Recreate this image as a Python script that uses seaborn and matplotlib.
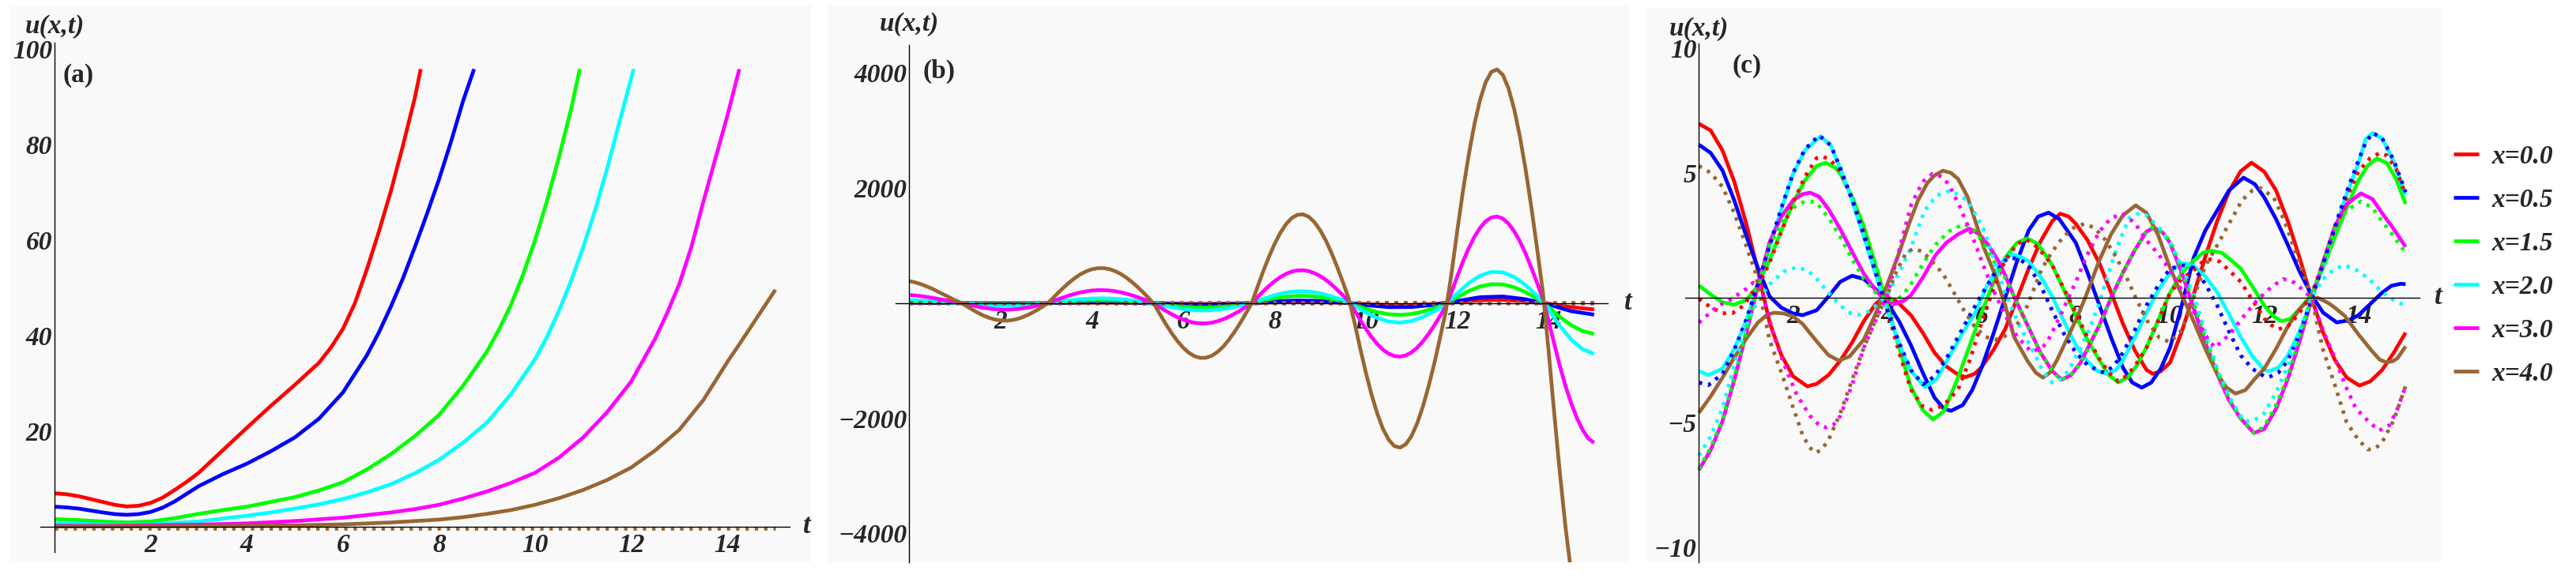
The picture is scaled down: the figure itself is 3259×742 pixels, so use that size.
import matplotlib
matplotlib.use("Agg")
import matplotlib.pyplot as plt
from matplotlib.transforms import blended_transform_factory
import seaborn as sns

sns.set_style("white")
plt.rcParams["font.family"] = ["Liberation Serif", "DejaVu Serif"]
plt.rcParams["font.weight"] = "bold"
plt.rcParams["font.style"] = "italic"
plt.rcParams["axes.unicode_minus"] = True

# ---------------- data ----------------
legend_labels = ["x=0.0", "x=0.5", "x=1.5", "x=2.0", "x=3.0", "x=4.0"]
line_colors = ["#ff0000", "#0000ff", "#00ff00", "#00ffff", "#ff00ff", "#996633"]

# panel (a): (t, u)
a_red = [(0, 7.0), (0.25, 6.8), (0.5, 6.4), (0.75, 5.8), (1, 5.2), (1.25, 4.6), (1.5, 4.25),
         (1.75, 4.4), (2, 5.0), (2.25, 6.1), (2.5, 7.7), (2.75, 9.4), (3, 11.3), (3.5, 16.0),
         (4, 20.7), (4.5, 25.3), (5, 29.7), (5.5, 34.3), (5.75, 37.5), (6, 41.4), (6.25, 46.8),
         (6.5, 53.9), (6.75, 61.8), (7, 70.3), (7.25, 79.8), (7.5, 89.9), (7.62, 95.8)]
a_blue = [(0, 4.2), (0.25, 4.05), (0.5, 3.8), (0.75, 3.4), (1, 3.0), (1.25, 2.65), (1.5, 2.5),
          (1.75, 2.65), (2, 3.1), (2.25, 4.0), (2.5, 5.3), (2.75, 6.9), (3, 8.5), (3.5, 11.0),
          (4, 13.2), (4.5, 15.8), (5, 18.7), (5.5, 22.6), (6, 28.1), (6.5, 35.9), (6.75, 40.7),
          (7, 46.1), (7.25, 52.0), (7.5, 58.6), (7.75, 65.5), (8, 72.7), (8.25, 80.6), (8.5, 89.1),
          (8.73, 95.8)]
a_green = [(0, 1.6), (0.5, 1.4), (1, 1.1), (1.5, 0.9), (2, 1.1), (2.5, 1.8), (3, 2.7), (3.5, 3.5),
           (4, 4.2), (4.5, 5.2), (5, 6.2), (5.5, 7.6), (6, 9.3), (6.5, 12.0), (7, 15.2), (7.5, 19.0),
           (8, 23.4), (8.5, 29.5), (9, 36.7), (9.25, 41.3), (9.5, 46.5), (9.75, 52.8), (10, 60.0),
           (10.25, 68.3), (10.5, 77.5), (10.75, 87.5), (10.93, 95.8)]
a_cyan = [(0, 0.7), (0.5, 0.6), (1, 0.5), (1.5, 0.45), (2, 0.5), (2.5, 0.8), (3, 1.1), (3.5, 1.7),
          (4, 2.3), (4.5, 3.0), (5, 3.8), (5.5, 4.7), (6, 5.8), (6.5, 7.2), (7, 8.9), (7.5, 11.2),
          (8, 14.0), (8.5, 17.6), (9, 21.8), (9.5, 27.8), (10, 35.1), (10.25, 39.8), (10.5, 45.3),
          (10.75, 51.5), (11, 58.5), (11.25, 66.3), (11.5, 75.0), (11.75, 84.5), (12.05, 95.8)]
a_magenta = [(0, 0.2), (1, 0.2), (2, 0.3), (3, 0.45), (4, 0.7), (5, 1.2), (6, 1.9), (7, 3.0),
             (7.5, 3.7), (8, 4.6), (8.5, 5.9), (9, 7.4), (9.5, 9.2), (10, 11.3), (10.5, 14.5),
             (11, 18.7), (11.5, 24.0), (12, 30.4), (12.5, 39.4), (12.75, 44.8), (13, 50.8),
             (13.25, 58.5), (13.5, 68.0), (13.75, 77.0), (14, 86.0), (14.25, 95.8)]
a_brown = [(0, 0.05), (2, 0.1), (4, 0.2), (5, 0.3), (6, 0.5), (7, 0.9), (8, 1.5), (8.5, 2.0),
           (9, 2.7), (9.5, 3.5), (10, 4.6), (10.5, 6.0), (11, 7.7), (11.5, 9.8), (12, 12.4),
           (12.5, 16.0), (13, 20.3), (13.5, 26.5), (14, 34.5), (14.25, 38.2), (14.5, 42.0),
           (14.75, 45.8), (15, 49.6)]
a_dotted = [(0, -0.3), (15, -0.3)]

# panel (b): t grids and u values
b_t8 = [i / 8 for i in range(121)]
b_t4 = [i / 4 for i in range(61)]
b_t2 = [i / 2 for i in range(31)]
b_red = [6, 4, 1, -2, -4, -3, 0, 5, 8, 8, 4, -3, -11, -14, -9, 0, 15, 22, 18, 5, -17, -34, -33,
         -15, 18, 50, 57, 33, -11, -70, -110]
b_blue = [11, 7, 2, -5, -9, -7, -1, 10, 17, 16, 8, -6, -22, -28, -18, 0, 30, 45, 37, 10, -35,
          -69, -67, -30, 36, 102, 115, 67, -23, -140, -200]
b_green = [32, 27, 21, 12, 4, -4, -14, -21, -24, -24, -19, -12, -2, 14, 29, 41, 48, 50, 46, 36,
           22, 7, -17, -43, -63, -75, -78, -69, -52, -28, 0, 45, 84, 112, 126, 123, 104, 71, 29,
           -27, -99, -157, -194, -205, -189, -147, -86, -12, 101, 209, 288, 328, 324, 275, 189,
           78, -66, -241, -384, -486, -535]
b_cyan = [52, 44, 34, 20, 7, -7, -23, -35, -40, -40, -32, -19, -3, 23, 48, 68, 79, 82, 75, 60,
          37, 11, -28, -71, -104, -124, -128, -114, -86, -46, 0, 74, 138, 184, 207, 202, 171, 117,
          48, -45, -163, -259, -320, -338, -311, -242, -141, -20, 167, 345, 475, 541, 534, 453,
          312, 129, -108, -397, -633, -801, -882]
b_magenta = [142, 133, 122, 108, 93, 74, 56, 37, 19, 3,
             -19, -41, -62, -80, -95, -106, -111, -113, -109, -101, -88, -72, -53, -30, -7,
             26, 64, 99, 132, 161, 186, 205, 218, 225, 225, 219, 207, 189, 164, 136, 103, 68, 30,
             -13, -77, -138, -195, -245, -287, -320, -342, -352, -351, -339, -314, -280, -236,
             -184, -127, -64, 0,
             103, 204, 297, 380, 451, 507, 547, 568, 571, 555, 520, 469, 402, 321, 230, 132, 29,
             -123, -290, -447, -589, -711, -809, -879, -920, -929, -908, -855, -773, -665, -534,
             -387, -224, -55,
             189, 460, 717, 948, 1147, 1306, 1422, 1488, 1503, 1469, 1381, 1247, 1071, 859, 618,
             354, 78,
             -296, -704, -1093, -1444, -1741, -2000, -2204, -2352, -2426]
b_brown = [383, 360, 330, 292, 250, 200, 150, 100, 50, 8,
           -50, -111, -168, -217, -256, -285, -301, -305, -295, -273, -238, -194, -142, -82, -20,
           70, 172, 268, 357, 436, 502, 553, 588, 607, 608, 592, 558, 509, 444, 366, 279, 184, 82,
           -35, -207, -373, -526, -662, -776, -864, -923, -951, -948, -914, -848, -756, -636,
           -496, -343, -173, 0,
           279, 550, 801, 1027, 1219, 1370, 1477, 1534, 1542, 1499, 1405, 1265, 1085, 867, 621,
           356, 79,
           -332, -783, -1206, -1589, -1919, -2185, -2373, -2484, -2509, -2451, -2308, -2087,
           -1795, -1441, -1045, -605, -148,
           511, 1243, 1935, 2559, 3096, 3526, 3839, 4017, 4059, 3965, 3730, 3367, 2892, 2319,
           1668, 955, 211,
           -800, -1900, -2950, -3900, -4700, -5400, -5950, -6350, -6550]

# panel (c): solid curves, (t, u)
c_red = [(0, 6.97), (0.25, 6.7), (0.5, 5.9), (0.75, 4.65), (1.0, 3.0), (1.25, 1.1), (1.5, -1.0),
         (1.75, -2.3), (2.0, -3.15), (2.3, -3.55), (2.5, -3.45), (2.75, -3.1), (3.0, -2.52),
         (3.25, -1.8), (3.5, -0.94), (3.75, -0.25), (3.95, 0.05), (4.2, -0.15), (4.5, -0.7),
         (4.75, -1.4), (5.0, -2.2), (5.25, -2.75), (5.5, -3.08), (5.66, -3.18), (5.85, -3.05),
         (6.0, -2.78), (6.25, -2.1), (6.5, -1.26), (6.75, -0.05), (7.0, 1.17), (7.25, 2.25),
         (7.5, 3.07), (7.67, 3.37), (7.85, 3.25), (8.0, 2.96), (8.25, 2.3), (8.5, 1.38),
         (8.75, 0.2), (9.0, -1.04), (9.25, -2.1), (9.5, -2.89), (9.63, -3.05), (9.8, -2.95),
         (10.0, -2.6), (10.25, -1.35), (10.5, 0.12), (10.75, 1.65), (11.0, 3.07), (11.25, 4.25),
         (11.5, 5.07), (11.73, 5.41), (12.0, 5.05), (12.25, 4.3), (12.5, 3.07), (12.75, 1.6),
         (13.0, 0.0), (13.25, -1.4), (13.5, -2.5), (13.75, -3.2), (14.02, -3.52), (14.25, -3.35),
         (14.5, -2.9), (14.75, -2.2), (15.0, -1.4)]
c_blue = [(0, 6.13), (0.25, 5.8), (0.5, 5.1), (0.75, 3.9), (1.0, 2.5), (1.25, 1.2), (1.5, 0.05),
          (1.75, -0.4), (2.0, -0.63), (2.2, -0.7), (2.5, -0.5), (2.75, 0.05), (3.0, 0.64),
          (3.25, 0.88), (3.5, 0.75), (3.75, 0.35), (4.0, -0.2), (4.25, -0.95), (4.5, -1.9),
          (4.75, -3.0), (5.0, -4.0), (5.2, -4.45), (5.35, -4.53), (5.6, -4.3), (5.8, -3.7),
          (6.0, -2.8), (6.25, -1.45), (6.5, 0.0), (6.75, 1.45), (7.0, 2.7), (7.2, 3.25),
          (7.42, 3.41), (7.65, 3.15), (8.0, 2.2), (8.25, 1.0), (8.5, -0.3), (8.75, -1.6),
          (9.0, -2.8), (9.2, -3.4), (9.4, -3.6), (9.6, -3.4), (9.8, -2.85), (10.0, -2.0),
          (10.25, -0.3), (10.5, 1.59), (10.75, 2.7), (11.0, 3.49), (11.25, 4.3), (11.56, 4.81),
          (11.8, 4.55), (12.0, 4.02), (12.25, 3.15), (12.5, 2.12), (12.75, 1.05), (13.0, 0.12),
          (13.25, -0.6), (13.54, -0.99), (13.8, -0.9), (14.0, -0.7), (14.25, -0.25), (14.5, 0.2),
          (14.7, 0.48), (14.9, 0.56), (15.0, 0.54)]
c_green = [(0, 0.49), (0.3, 0.06), (0.5, -0.18), (0.74, -0.28), (1.0, -0.1), (1.2, 0.35),
           (1.5, 1.5), (1.75, 2.7), (2.0, 3.81), (2.25, 4.7), (2.5, 5.28), (2.69, 5.41), (2.9, 5.2),
           (3.0, 4.97), (3.25, 4.05), (3.5, 2.86), (3.75, 1.3), (4.0, -0.31), (4.25, -2.0),
           (4.5, -3.58), (4.75, -4.5), (4.97, -4.88), (5.2, -4.55), (5.5, -3.2), (5.75, -1.9),
           (6.0, -0.6), (6.25, 0.6), (6.5, 1.6), (6.75, 2.2), (6.97, 2.38), (7.2, 2.15),
           (7.5, 1.3), (7.75, 0.3), (8.0, -0.7), (8.25, -1.7), (8.5, -2.5), (8.7, -3.1),
           (8.9, -3.39), (9.1, -3.2), (9.3, -2.7), (9.5, -1.99), (9.75, -0.9), (10.0, 0.2),
           (10.25, 1.0), (10.5, 1.49), (10.7, 1.8), (10.86, 1.89), (11.1, 1.8), (11.3, 1.5),
           (11.5, 1.17), (11.75, 0.45), (12.0, -0.31), (12.2, -0.75), (12.37, -0.94),
           (12.55, -0.85), (12.75, -0.45), (13.0, 0.12), (13.25, 1.2), (13.5, 2.44), (13.75, 3.6),
           (14.0, 4.7), (14.2, 5.3), (14.39, 5.58), (14.6, 5.4), (14.8, 4.75), (15.0, 3.76)]
c_cyan = [(0, -2.94), (0.2, -3.1), (0.5, -2.84), (0.75, -2.05), (1.0, -0.94), (1.25, 0.5),
          (1.5, 2.01), (1.75, 3.55), (2.0, 4.97), (2.25, 5.9), (2.58, 6.47), (2.8, 6.1),
          (3.0, 5.18), (3.25, 3.9), (3.5, 2.44), (3.75, 0.95), (4.0, -0.52), (4.25, -1.85),
          (4.5, -2.94), (4.8, -3.58), (5.05, -3.25), (5.3, -2.4), (5.6, -1.4), (5.86, -0.62),
          (6.13, 0.54), (6.41, 1.38), (6.64, 1.75), (6.85, 1.62), (7.0, 1.45), (7.25, 0.85),
          (7.5, 0.05), (7.75, -0.95), (8.0, -1.9), (8.25, -2.55), (8.46, -2.94), (8.68, -3.05),
          (8.85, -2.9), (9.0, -2.5), (9.25, -1.6), (9.5, -0.6), (9.75, 0.3), (10.0, 1.0),
          (10.24, 1.4), (10.5, 1.28), (10.75, 0.85), (11.0, 0.22), (11.25, -0.65), (11.5, -1.57),
          (11.75, -2.35), (12.0, -2.89), (12.11, -2.94), (12.3, -2.8), (12.5, -2.31),
          (12.75, -1.35), (13.0, -0.1), (13.25, 1.3), (13.5, 2.75), (13.75, 4.15), (14.0, 5.39),
          (14.15, 6.35), (14.3, 6.6), (14.5, 6.39), (14.75, 5.45), (15.0, 4.12)]
c_magenta = [(0, -6.9), (0.25, -6.1), (0.5, -4.95), (0.75, -3.3), (1.0, -1.47), (1.25, 0.45),
             (1.5, 2.23), (1.75, 3.25), (2.0, 3.91), (2.2, 4.15), (2.36, 4.21), (2.55, 4.05),
             (2.75, 3.55), (3.0, 2.75), (3.25, 1.85), (3.5, 0.96), (3.75, 0.3), (3.95, -0.1),
             (4.15, -0.25), (4.35, -0.12), (4.5, 0.1), (4.75, 0.8), (5.02, 1.7), (5.25, 2.2),
             (5.5, 2.54), (5.74, 2.77), (5.95, 2.55), (6.14, 2.12), (6.35, 1.5), (6.5, 0.9),
             (6.7, 0.0), (6.85, -0.6), (7.0, -1.2), (7.25, -2.2), (7.5, -2.94), (7.7, -3.28),
             (7.9, -3.1), (8.1, -2.6), (8.3, -1.85), (8.5, -1.1), (8.75, 0.0), (9.0, 1.0),
             (9.25, 1.9), (9.5, 2.65), (9.66, 2.81), (9.85, 2.6), (10.0, 2.2), (10.25, 1.0),
             (10.5, -0.41), (10.75, -1.8), (11.0, -3.05), (11.25, -4.1), (11.5, -4.84),
             (11.78, -5.42), (12.0, -5.26), (12.25, -4.45), (12.5, -3.26), (12.75, -1.75),
             (13.0, -0.1), (13.25, 1.45), (13.5, 2.86), (13.75, 3.75), (14.05, 4.18), (14.3, 3.95),
             (14.5, 3.39), (14.75, 2.75), (15.0, 2.04)]
c_brown = [(0, -4.61), (0.25, -3.95), (0.5, -3.2), (0.75, -2.4), (1.0, -1.65), (1.25, -1.0),
           (1.45, -0.68), (1.6, -0.6), (1.8, -0.63), (2.0, -0.75), (2.2, -1.05), (2.5, -1.75),
           (2.75, -2.3), (2.97, -2.52), (3.2, -2.35), (3.5, -1.68), (3.75, -0.65), (4.0, 0.54),
           (4.25, 1.8), (4.46, 2.96), (4.65, 3.9), (4.85, 4.6), (5.0, 4.9), (5.18, 5.09),
           (5.35, 5.0), (5.5, 4.76), (5.7, 4.05), (5.85, 3.17), (6.05, 2.0), (6.3, 0.85),
           (6.5, -0.3), (6.69, -1.57), (6.97, -2.52), (7.15, -3.0), (7.3, -3.2), (7.45, -3.0),
           (7.6, -2.5), (7.8, -1.7), (8.0, -0.9), (8.2, 0.0), (8.5, 1.5), (8.75, 2.55), (9.0, 3.3),
           (9.27, 3.7), (9.5, 3.4), (9.75, 2.5), (10.0, 1.2), (10.25, 0.1), (10.5, -0.94),
           (10.75, -2.05), (11.0, -3.05), (11.2, -3.6), (11.39, -3.84), (11.6, -3.7),
           (11.8, -3.25), (12.0, -2.84), (12.25, -2.05), (12.5, -1.15), (12.75, -0.45),
           (12.95, -0.08), (13.13, 0.0), (13.35, -0.2), (13.5, -0.4), (13.71, -0.73), (14.0, -1.47),
           (14.27, -2.1), (14.45, -2.48), (14.58, -2.58), (14.72, -2.55), (14.83, -2.42),
           (15.0, -1.95)]

# panel (c): dotted curves, (t, u)
c_red_dot = [(0, -0.04), (0.23, -0.36), (0.5, -0.62), (0.71, -0.62), (0.96, -0.3), (1.1, 0.12),
             (1.3, 0.65), (1.5, 1.4), (1.75, 2.65), (2.0, 3.81), (2.25, 4.85), (2.5, 5.6),
             (2.64, 5.65), (2.8, 5.5), (3.0, 5.07), (3.25, 3.95), (3.5, 2.65), (3.75, 1.05),
             (4.0, -0.52), (4.25, -2.2), (4.5, -3.68), (4.75, -4.35), (4.95, -4.5), (5.2, -4.3),
             (5.5, -3.68), (5.75, -2.5), (6.0, -1.0), (6.25, 0.35), (6.5, 1.5), (6.75, 2.15),
             (6.95, 2.33), (7.2, 2.0), (7.5, 1.3), (7.75, 0.35), (8.0, -0.6), (8.25, -1.6),
             (8.5, -2.45), (8.7, -3.0), (8.9, -3.35), (9.1, -3.1), (9.3, -2.6), (9.5, -2.0),
             (9.75, -0.9), (10.0, 0.2), (10.25, 0.75), (10.5, 1.1), (10.7, 1.45), (10.86, 1.54),
             (11.05, 1.45), (11.25, 1.1), (11.5, 0.64), (11.75, -0.1), (12.0, -0.83),
             (12.15, -1.1), (12.3, -1.26), (12.5, -1.15), (12.75, -0.6), (13.0, 0.12),
             (13.25, 1.4), (13.5, 2.75), (13.75, 4.0), (14.0, 5.07), (14.25, 5.6), (14.45, 5.8),
             (14.6, 5.7), (14.8, 5.15), (15.0, 4.12)]
c_blue_dot = [(0, -3.4), (0.2, -3.5), (0.5, -3.05), (0.75, -2.1), (1.0, -0.9), (1.25, 0.55),
              (1.5, 2.1), (1.75, 3.6), (2.0, 5.0), (2.25, 5.95), (2.55, 6.5), (2.8, 6.1),
              (3.0, 5.2), (3.25, 3.95), (3.5, 2.5), (3.75, 1.0), (4.0, -0.5), (4.25, -1.8),
              (4.5, -2.9), (4.76, -3.47), (5.0, -3.15), (5.25, -2.45), (5.5, -1.57), (5.75, -0.7),
              (6.0, 0.12), (6.25, 0.9), (6.5, 1.49), (6.6, 1.6), (6.8, 1.55), (7.0, 1.28),
              (7.25, 0.5), (7.5, -0.52), (7.75, -1.45), (8.0, -2.2), (8.25, -2.7), (8.5, -2.94),
              (8.6, -3.0), (8.8, -2.75), (9.0, -2.2), (9.25, -1.3), (9.5, -0.31), (9.75, 0.5),
              (10.0, 1.17), (10.3, 1.3), (10.5, 1.2), (10.75, 0.55), (11.0, -0.31), (11.25, -1.35),
              (11.5, -2.31), (11.75, -2.85), (12.0, -3.15), (12.1, -3.18), (12.3, -3.0),
              (12.5, -2.52), (12.75, -1.45), (13.0, -0.1), (13.25, 1.35), (13.5, 2.86),
              (13.75, 4.25), (14.0, 5.5), (14.15, 6.2), (14.3, 6.6), (14.5, 6.4), (14.75, 5.5),
              (15.0, 4.23)]
c_green_dot = [(0, -6.85), (0.25, -6.0), (0.5, -4.9), (0.75, -3.2), (1.0, -1.4), (1.25, 0.4),
               (1.5, 2.1), (1.75, 3.0), (2.0, 3.6), (2.2, 3.82), (2.36, 3.86), (2.5, 3.8),
               (2.75, 3.2), (3.0, 2.44), (3.25, 1.55), (3.5, 0.75), (3.75, 0.2), (3.95, -0.05),
               (4.15, -0.12), (4.3, 0.05), (4.5, 0.54), (4.75, 1.35), (5.02, 2.12), (5.3, 2.65),
               (5.63, 2.96), (5.85, 2.7), (6.02, 2.23), (6.25, 1.5), (6.5, 0.8), (6.75, -0.2),
               (7.0, -1.2), (7.25, -2.2), (7.5, -2.9), (7.67, -3.3), (7.85, -3.15), (8.0, -2.9),
               (8.25, -2.1), (8.5, -1.1), (8.75, 0.0), (9.0, 1.0), (9.25, 1.9), (9.5, 2.65),
               (9.62, 2.81), (9.8, 2.65), (10.0, 2.3), (10.25, 1.1), (10.5, -0.2), (10.75, -1.6),
               (11.0, -2.94), (11.25, -4.05), (11.5, -4.84), (11.78, -5.42), (12.0, -5.16),
               (12.25, -4.3), (12.5, -3.15), (12.75, -1.6), (13.0, 0.0), (13.25, 1.45),
               (13.5, 2.75), (13.75, 3.5), (14.05, 3.86), (14.3, 3.6), (14.5, 3.07), (14.75, 2.45),
               (15.0, 1.8)]
c_cyan_dot = [(0, -6.32), (0.25, -5.55), (0.5, -4.42), (0.75, -2.7), (1.0, -1.15), (1.25, -0.1),
              (1.5, 0.54), (1.8, 1.05), (2.08, 1.22), (2.3, 1.1), (2.5, 0.75), (2.75, 0.2),
              (3.0, -0.31), (3.2, -0.6), (3.4, -0.68), (3.6, -0.55), (3.8, -0.25), (4.0, 0.12),
              (4.25, 1.0), (4.5, 2.01), (4.79, 3.49), (5.05, 4.1), (5.35, 4.3), (5.69, 3.91),
              (6.02, 2.86), (6.25, 1.59), (6.47, 0.33), (6.81, -1.15), (7.14, -2.3), (7.3, -2.95),
              (7.5, -3.4), (7.65, -3.3), (7.84, -2.94), (8.05, -2.2), (8.29, -1.26), (8.46, -0.41),
              (8.65, 0.7), (8.85, 1.9), (9.13, 3.2), (9.35, 3.39), (9.5, 3.3), (9.75, 2.85),
              (10.0, 2.2), (10.25, 1.25), (10.5, 0.12), (10.75, -1.4), (11.0, -2.84),
              (11.25, -3.95), (11.5, -4.74), (11.6, -4.95), (11.8, -4.9), (12.0, -4.63),
              (12.25, -3.8), (12.5, -2.73), (12.75, -1.35), (13.0, 0.0), (13.25, 0.75),
              (13.5, 1.17), (13.71, 1.3), (14.0, 1.07), (14.25, 0.7), (14.5, 0.22), (14.75, -0.1),
              (15.0, -0.31)]
c_magenta_dot = [(0, -1.0), (0.4, -0.33), (0.65, -0.1), (1.0, 0.35), (1.15, 0.6), (1.3, 0.45),
                 (1.45, -0.5), (1.58, -1.47), (1.8, -2.63), (2.08, -3.9), (2.36, -4.74),
                 (2.55, -5.1), (2.7, -5.2), (2.85, -5.1), (3.0, -4.74), (3.25, -3.5), (3.5, -2.0),
                 (3.75, -0.9), (4.0, 0.12), (4.25, 1.9), (4.5, 3.7), (4.75, 4.65), (4.96, 4.97),
                 (5.15, 4.85), (5.3, 4.55), (5.55, 3.6), (5.83, 2.33), (6.02, 1.38), (6.25, 0.3),
                 (6.5, -0.7), (6.75, -1.55), (7.05, -2.15), (7.25, -2.05), (7.39, -1.8),
                 (7.7, -0.6), (8.0, 0.64), (8.25, 1.75), (8.5, 2.65), (8.75, 3.2), (9.0, 3.35),
                 (9.25, 3.0), (9.5, 2.3), (9.75, 1.75), (10.0, 1.1), (10.25, 0.3), (10.5, -0.55),
                 (10.75, -1.5), (10.95, -2.0), (11.25, -1.5), (11.57, -0.73), (11.85, -0.1),
                 (12.15, 0.43), (12.4, 0.75), (12.65, 0.6), (13.0, 0.0), (13.27, -1.41),
                 (13.49, -2.36), (13.71, -3.47), (13.94, -4.42), (14.22, -4.97), (14.44, -5.32),
                 (14.66, -5.1), (14.83, -4.44), (15.0, -3.54)]
c_brown_dot = [(0, 5.28), (0.25, 5.0), (0.5, 4.44), (0.75, 3.4), (1.0, 2.1), (1.2, 1.0),
               (1.5, -1.7), (1.75, -3.0), (2.0, -4.4), (2.2, -5.5), (2.35, -6.0), (2.47, -6.21),
               (2.6, -6.1), (2.75, -5.7), (3.0, -4.63), (3.25, -3.3), (3.5, -2.0), (3.75, -0.9),
               (4.0, 0.12), (4.2, 1.1), (4.4, 1.8), (4.55, 1.96), (4.75, 1.85), (5.0, 1.35),
               (5.18, 0.96), (5.4, 0.25), (5.63, -0.52), (5.85, -1.15), (6.08, -1.57), (6.3, -1.68),
               (6.58, -1.47), (6.8, -0.95), (6.95, -0.41), (7.1, 0.3), (7.28, 1.17), (7.5, 1.85),
               (7.73, 2.43), (7.95, 2.8), (8.18, 2.96), (8.4, 2.8), (8.62, 2.33), (8.85, 1.65),
               (9.07, 0.85), (9.27, 0.0), (9.55, -1.04), (9.77, -1.6), (10.0, -1.78),
               (10.25, -1.3), (10.5, 0.0), (10.75, 1.28), (11.03, 2.2), (11.25, 2.96),
               (11.53, 3.91), (11.75, 4.3), (11.92, 4.39), (12.2, 4.02), (12.43, 3.07),
               (12.71, 1.59), (13.0, 0.0), (13.25, -2.1), (13.5, -3.5), (13.75, -5.0), (14.0, -5.7),
               (14.2, -6.08), (14.35, -6.05), (14.5, -5.8), (14.75, -4.9), (15.0, -3.54)]

a_curves = [a_red, a_blue, a_green, a_cyan, a_magenta, a_brown]
b_curves = [(b_t2, b_red), (b_t2, b_blue), (b_t4, b_green), (b_t4, b_cyan),
            (b_t8, b_magenta), (b_t8, b_brown)]
c_solid = [c_red, c_blue, c_green, c_cyan, c_magenta, c_brown]
c_dotted = [c_red_dot, c_blue_dot, c_green_dot, c_cyan_dot, c_magenta_dot, c_brown_dot]

# ---------------- figure ----------------
W, H = 3259, 742
fig = plt.figure(figsize=(W / 100, H / 100), dpi=100)
BG = "#f9f9f9"
LW = 3.4
DOT = (0, (0.9, 1.6))
FS = 24


def px_axes(x0, x1, y0, y1):
    return fig.add_axes([x0 / W, 1 - y1 / H, (x1 - x0) / W, (y1 - y0) / H])


def draw(ax, t, u, color, dotted=False, label=None):
    sns.lineplot(x=t, y=u, ax=ax, color=color, linewidth=LW, label=label,
                 estimator=None, linestyle=DOT if dotted else "-",
                 solid_joinstyle="round", solid_capstyle="butt")


def split(pts):
    return [p[0] for p in pts], [p[1] for p in pts]


def style_axes(ax, xlim, ylim, ybounds, xmajor, xminor, ymajor, yminor):
    ax.set_facecolor(BG)
    ax.set_xlim(*xlim)
    ax.set_ylim(*ylim)
    for s in ["top", "right"]:
        ax.spines[s].set_visible(False)
    ax.spines["left"].set_position(("data", 0))
    ax.spines["bottom"].set_position(("data", 0))
    ax.spines["left"].set_bounds(*ybounds)
    ax.spines["bottom"].set_bounds(-0.3, 15.3)
    for s in ["left", "bottom"]:
        ax.spines[s].set_linewidth(1.0)
        ax.spines[s].set_color("black")
    ax.set_xticks(xmajor)
    ax.set_xticks(xminor, minor=True)
    ax.set_yticks(ymajor)
    ax.set_yticks(yminor, minor=True)
    ax.tick_params(which="major", direction="in", length=6, width=1.0, labelsize=FS)
    ax.tick_params(which="minor", direction="in", length=3.5, width=0.8)
    ax.tick_params(axis="x", pad=6)
    ax.tick_params(axis="y", pad=2)
    ax.set_xlabel("")
    ax.set_ylabel("")


def annotate(ax, tag, tag_x, tag_y, top_y, t_x):
    tr = blended_transform_factory(ax.transData, ax.transAxes)
    ax.text(0, top_y, "u(x,t)", transform=tr, ha="center", va="center", fontsize=FS)
    ax.text(tag_x, tag_y, tag, transform=tr, ha="left", va="center", fontsize=FS,
            fontstyle="normal", fontweight="bold")
    ax.text(t_x, 0, "t", ha="left", va="center", fontsize=FS + 1)


xmajor = [2, 4, 6, 8, 10, 12, 14]
xminor = [k / 2 for k in range(1, 31)]

# panel (a)
ax_a = px_axes(12.6, 1025.6, 7, 712)
for pts, col in zip(a_curves, line_colors):
    draw(ax_a, *split(pts), col)
draw(ax_a, *split(a_dotted), line_colors[5], dotted=True)
style_axes(ax_a, (-0.928, 15.734), (-7.44, 109.1), (-5.3, 101.3), xmajor, xminor,
           [20, 40, 60, 80, 100], list(range(-5, 101, 5)))
annotate(ax_a, "(a)", 0.18, 0.875, 0.962, 15.58)

# panel (b)
ax_b = px_axes(1047, 2061, 7, 712)
for (t, u), col in zip(b_curves, line_colors):
    draw(ax_b, t, u, col)
for pts, col in zip(c_dotted, line_colors):
    draw(ax_b, *split(pts), col, dotted=True)
style_axes(ax_b, (-1.792, 15.766), (-4502, 5169), (-4502, 4486), xmajor, xminor,
           [-4000, -2000, 2000, 4000], list(range(-4500, 4501, 500)))
annotate(ax_b, "(b)", 0.30, 0.882, 0.966, 15.66)

# panel (c)
ax_c = px_axes(2083, 3089, 11, 712)
for pts, col, lab in zip(c_solid, line_colors, legend_labels):
    draw(ax_c, *split(pts), col, label=lab)
for pts, col in zip(c_dotted, line_colors):
    draw(ax_c, *split(pts), col, dotted=True)
style_axes(ax_c, (-1.114, 15.765), (-10.6, 11.58), (-10.6, 10.2), xmajor, xminor,
           [-10, -5, 5, 10], list(range(-10, 11)))
annotate(ax_c, "(c)", 0.70, 0.897, 0.963, 15.61)

handles, labels = ax_c.get_legend_handles_labels()
ax_c.legend(handles[:6], labels[:6], loc="upper left",
            bbox_to_anchor=(3104 / W, 1 - 183 / H), bbox_transform=fig.transFigure,
            frameon=False, fontsize=FS, handlelength=0.95, handletextpad=0.5,
            labelspacing=0.72, borderpad=0, borderaxespad=0)

fig.savefig("out.png", dpi=100, facecolor="white")
